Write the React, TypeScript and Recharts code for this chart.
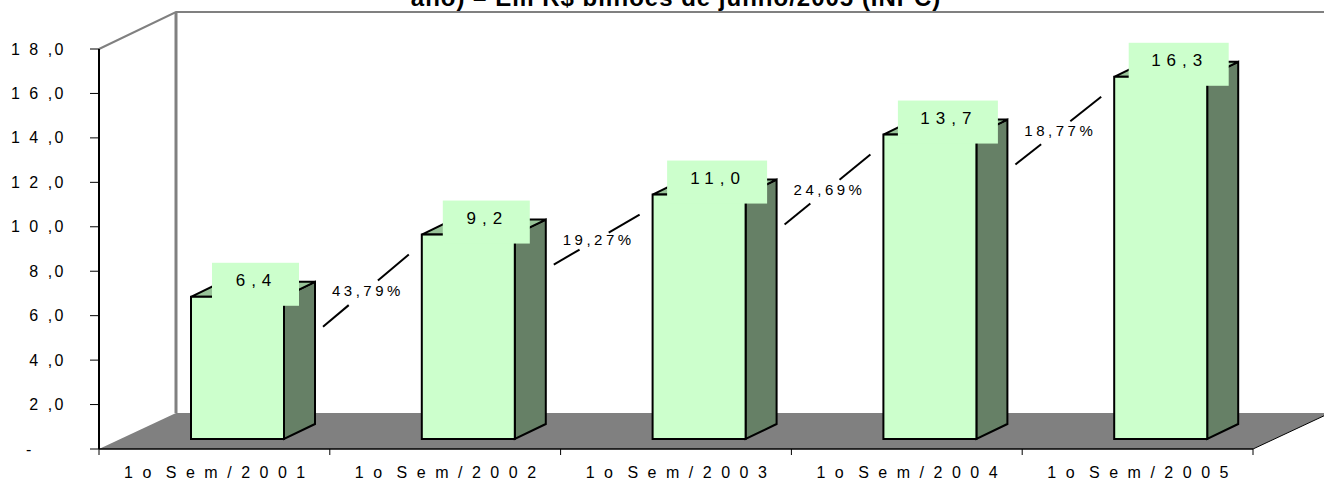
import React from 'react';
import { BarChart, Bar, XAxis, YAxis, LabelList } from 'recharts';

// dados (R$ bilhões de junho/2005)
const periodos = ['1o Sem/2001', '1o Sem/2002', '1o Sem/2003', '1o Sem/2004', '1o Sem/2005'];
const valores = [6.4, 9.2, 11.0, 13.7, 16.3];
// crescimento em relação ao semestre seguinte (%)
const crescimento = [43.79, 19.27, 24.69, 18.77, null];
const yTicks = [0, 2, 4, 6, 8, 10, 12, 14, 16, 18];

const data = periodos.map((periodo, i) => ({
  periodo,
  valor: valores[i],
  cresc: crescimento[i],
}));

const W = 1324;
const H = 482;
const PLOT_LEFT = 99;
const PLOT_RIGHT = 1253;
const PLOT_TOP = 49;
const PLOT_BOTTOM = 449;
const Y_AXIS_W = 60;
const X_AXIS_H = 30;

// perspectiva do "3D" do Excel
const WALL_DX = 77;
const WALL_DY = 37;
const OFF_X = 23;
const OFF_Y = 10;
const BAR_DX = 31;
const BAR_DY = 15;

const FONT = '"Liberation Sans", Arial, sans-serif';
const STEP = (PLOT_RIGHT - PLOT_LEFT) / periodos.length;

const fmtDec = (v: number) => v.toFixed(1).replace('.', ',');
const fmtPct = (v: number) => v.toFixed(2).replace('.', ',') + '%';

const Bar3D = (props: any) => {
  const { x, y, width, height } = props;
  if (width == null || height == null) return null;
  const fx = x + OFF_X;
  const fy = y - OFF_Y;
  const r = fx + width;
  const b = fy + height;
  return (
    <g stroke="#000" strokeWidth={2}>
      <polygon
        points={`${r},${fy} ${r + BAR_DX},${fy - BAR_DY} ${r + BAR_DX},${b - BAR_DY} ${r},${b}`}
        fill="#668066"
      />
      <polygon
        points={`${fx},${fy} ${fx + BAR_DX},${fy - BAR_DY} ${r + BAR_DX},${fy - BAR_DY} ${r},${fy}`}
        fill="#99C499"
      />
      <rect x={fx} y={fy} width={width} height={height} fill="#CCFFCC" />
    </g>
  );
};

const ValorLabel = (props: any) => {
  const vb = props.viewBox && props.viewBox.width != null ? props.viewBox : props;
  const { x, y, width } = vb;
  if (x == null || props.value == null) return null;
  const txt = fmtDec(Number(props.value));
  const bw = 48 + txt.length * 13;
  const cx = x + OFF_X + width / 2 + 18;
  const cy = y - OFF_Y - 12.5;
  return (
    <g>
      <rect x={cx - bw / 2} y={cy - 21.5} width={bw} height={43} fill="#CCFFCC" />
      <text
        x={cx + 1}
        y={cy - 4}
        textAnchor="middle"
        dominantBaseline="central"
        fontSize={17}
        letterSpacing={6}
        fontFamily={FONT}
        fill="#000"
      >
        {txt}
      </text>
    </g>
  );
};

const CrescLabel = (props: any) => {
  const vb = props.viewBox && props.viewBox.width != null ? props.viewBox : props;
  const { x, y, width, height } = vb;
  const index = props.index;
  if (x == null || props.value == null || index == null || index >= valores.length - 1) return null;
  const base = y + height;
  const pxPerUnit = height / valores[index];
  const nextTop = base - valores[index + 1] * pxPerUnit;
  const x1 = x + OFF_X + width + BAR_DX + 8;
  const y1 = y - OFF_Y + 30;
  const x2 = x + STEP + OFF_X - 13;
  const y2 = nextTop - OFF_Y + 20;
  const at = (t: number) => [x1 + (x2 - x1) * t, y1 + (y2 - y1) * t];
  const [ax, ay] = at(0.3);
  const [bx, by] = at(0.64);
  const [mx, my] = at(0.5);
  return (
    <g>
      <line x1={x1} y1={y1} x2={ax} y2={ay} stroke="#000" strokeWidth={2} />
      <line x1={bx} y1={by} x2={x2} y2={y2} stroke="#000" strokeWidth={2} />
      <text
        x={mx + 2}
        y={my}
        textAnchor="middle"
        dominantBaseline="central"
        fontSize={15}
        letterSpacing={3.5}
        fontFamily={FONT}
        fill="#000"
      >
        {fmtPct(Number(props.value))}
      </text>
    </g>
  );
};

const YTick = ({ x, y, payload }: any) => {
  const v = payload.value;
  if (v === 0) {
    return (
      <text x={x - 40} y={y} dominantBaseline="central" fontSize={16} fontFamily={FONT} fill="#000">
        -
      </text>
    );
  }
  const [int, dec] = v.toFixed(1).split('.');
  const s = int.split('').join(' ') + ' ,' + dec;
  return (
    <text
      x={x}
      y={y}
      textAnchor="end"
      dominantBaseline="central"
      fontSize={16}
      letterSpacing={2.5}
      fontFamily={FONT}
      fill="#000"
    >
      {s}
    </text>
  );
};

const XTick = (props: any) => {
  const { x, payload } = props;
  const idx = payload.index ?? props.index;
  const half = payload.offset || STEP / 2;
  return (
    <g>
      <line x1={x - half} x2={x - half} y1={PLOT_BOTTOM} y2={PLOT_BOTTOM + 6} stroke="#000" />
      {idx === periodos.length - 1 && (
        <line x1={x + half} x2={x + half} y1={PLOT_BOTTOM} y2={PLOT_BOTTOM + 6} stroke="#000" />
      )}
      <text
        x={x + 5}
        y={PLOT_BOTTOM + 29}
        textAnchor="middle"
        fontSize={16}
        letterSpacing={9.5}
        wordSpacing={-9}
        fontFamily={FONT}
        fill="#000"
      >
        {payload.value}
      </text>
    </g>
  );
};

const Paredes = () => {
  const backX = PLOT_LEFT + WALL_DX;
  const topY = PLOT_TOP - WALL_DY;
  const floorBackY = PLOT_BOTTOM - WALL_DY + 1;
  return (
    <svg width={W} height={H} style={{ position: 'absolute', left: 0, top: 0 }}>
      <polygon
        points={`${PLOT_LEFT},${PLOT_BOTTOM} ${PLOT_RIGHT},${PLOT_BOTTOM} ${PLOT_RIGHT + WALL_DX},${floorBackY} ${backX},${floorBackY}`}
        fill="#808080"
      />
      <line
        x1={PLOT_RIGHT}
        y1={PLOT_BOTTOM}
        x2={PLOT_RIGHT + WALL_DX}
        y2={floorBackY}
        stroke="#000"
        strokeWidth={1}
      />
      <polyline
        points={`${PLOT_LEFT},${PLOT_TOP} ${backX},${topY} ${W},${topY}`}
        fill="none"
        stroke="#808080"
        strokeWidth={2}
      />
      <line x1={backX} y1={topY} x2={backX} y2={floorBackY} stroke="#808080" strokeWidth={3} />
      {/* título cortado no topo, como no original */}
      <text
        x={676}
        y={6}
        textAnchor="middle"
        fontSize={24}
        fontWeight="bold"
        letterSpacing={1}
        fontFamily={FONT}
        fill="#000"
      >
        ano) – Em R$ bilhões de junho/2005 (INPC)
      </text>
    </svg>
  );
};

export default function App() {
  return (
    <div style={{ position: 'absolute', left: 0, top: 0, width: W, height: H, background: '#fff' }}>
      <Paredes />
      <div style={{ position: 'absolute', left: 0, top: 0 }}>
        <BarChart
          width={W}
          height={H}
          data={data}
          margin={{
            top: PLOT_TOP,
            right: W - PLOT_RIGHT,
            bottom: H - PLOT_BOTTOM - X_AXIS_H,
            left: PLOT_LEFT - Y_AXIS_W,
          }}
        >
          <XAxis
            dataKey="periodo"
            height={X_AXIS_H}
            tickLine={false}
            tickSize={6}
            tickMargin={0}
            axisLine={{ stroke: '#000', strokeWidth: 1.5 }}
            tick={<XTick />}
            interval={0}
          />
          <YAxis
            type="number"
            domain={[0, 18]}
            ticks={yTicks}
            width={Y_AXIS_W}
            tickSize={9}
            tickMargin={24}
            tickLine={{ stroke: '#000' }}
            axisLine={{ stroke: '#000', strokeWidth: 2 }}
            tick={<YTick />}
            interval={0}
          />
          <Bar dataKey="valor" barSize={93} shape={<Bar3D />} isAnimationActive={false}>
            <LabelList dataKey="valor" content={<ValorLabel />} />
            <LabelList dataKey="cresc" content={<CrescLabel />} />
          </Bar>
        </BarChart>
      </div>
    </div>
  );
}
